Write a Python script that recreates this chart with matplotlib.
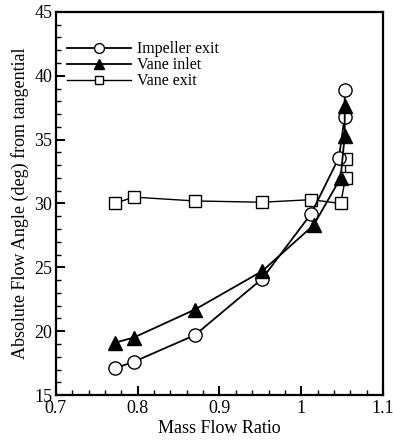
import matplotlib
matplotlib.use("Agg")
import matplotlib.pyplot as plt
from matplotlib.ticker import MultipleLocator

plt.rcParams['font.family'] = ['Liberation Serif', 'DejaVu Serif']

# Mass flow ratio vs absolute flow angle
imp_x = [0.772, 0.795, 0.870, 0.952, 1.012, 1.046, 1.053, 1.053]
imp_y = [17.1, 17.6, 19.7, 24.1, 29.2, 33.6, 36.8, 38.9]

vin_x = [0.772, 0.795, 0.870, 0.952, 1.015, 1.048, 1.053, 1.053]
vin_y = [19.1, 19.5, 21.7, 24.7, 28.3, 32.0, 35.3, 37.6]

vex_x = [0.772, 0.795, 0.870, 0.952, 1.012, 1.048, 1.054, 1.054]
vex_y = [30.0, 30.5, 30.2, 30.1, 30.3, 30.0, 32.0, 33.5]

fig = plt.figure(figsize=(3.93, 4.40), dpi=100)
ax = fig.add_axes([0.142, 0.102, 0.833, 0.871])

ax.plot(imp_x, imp_y, color='black', lw=1.3, marker='o', ms=9.5,
        mfc='white', mec='black', mew=1.0, label='Impeller exit', zorder=3)
ax.plot(vin_x, vin_y, color='black', lw=1.3, marker='^', ms=9.5,
        mfc='black', mec='black', label='Vane inlet', zorder=4)
ax.plot(vex_x, vex_y, color='black', lw=1.0, marker='s', ms=8.5,
        mfc='white', mec='black', mew=1.0, label='Vane exit', zorder=2)

ax.set_xlim(0.7, 1.1)
ax.set_ylim(15, 45)
ax.xaxis.set_major_locator(MultipleLocator(0.1))
ax.xaxis.set_minor_locator(MultipleLocator(0.02))
ax.yaxis.set_major_locator(MultipleLocator(5))
ax.yaxis.set_minor_locator(MultipleLocator(1))
ax.set_xticks([0.7, 0.8, 0.9, 1.0, 1.1])
ax.set_xticklabels(['0.7', '0.8', '0.9', '1', '1.1'])

ax.tick_params(which='both', direction='in', top=False, right=False,
               labelsize=13, width=1.0)
ax.tick_params(which='major', length=6.5, width=1.5)
ax.tick_params(which='minor', length=3.5)
ax.tick_params(axis='x', pad=3.5)
ax.tick_params(axis='y', pad=2.5)

for s in ax.spines.values():
    s.set_linewidth(1.6)

ax.set_xlabel('Mass Flow Ratio', fontsize=13, labelpad=2)
ax.set_ylabel('Absolute Flow Angle (deg) from tangential', fontsize=13, labelpad=4)

ax.legend(loc='upper left', bbox_to_anchor=(-0.005, 0.957), frameon=False,
          fontsize=11.5, handlelength=4.0, handletextpad=0.4,
          labelspacing=0.0, borderaxespad=0.4, markerscale=0.75)

fig.savefig('out.png', dpi=100)
